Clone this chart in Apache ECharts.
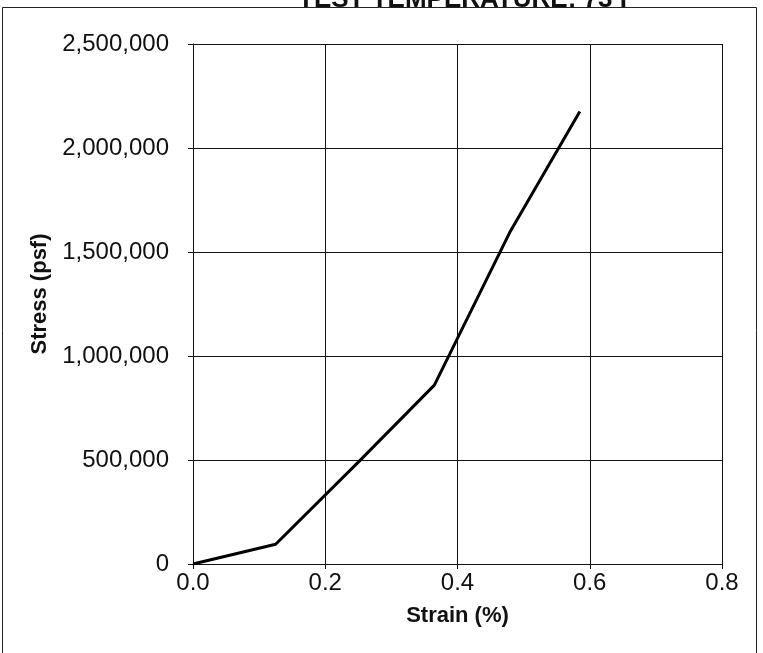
<!DOCTYPE html>
<html>
<head>
<meta charset="utf-8">
<script src="https://cdn.jsdelivr.net/npm/echarts@6/dist/echarts.min.js"></script>
<style>
  html, body { margin: 0; padding: 0; background: #fff; }
  #chart { width: 763px; height: 653px; }
</style>
</head>
<body>
<div id="chart"></div>
<script>
// strain (%) vs stress (psf)
var strain = [0, 0.125, 0.25, 0.365, 0.48, 0.585];
var stress = [0, 95000, 490000, 860000, 1600000, 2175000];
var xTicks = [0, 0.2, 0.4, 0.6, 0.8];
var yTicks = [0, 500000, 1000000, 1500000, 2000000, 2500000];

var FONT = 'Arial, "Liberation Sans", sans-serif';
var INK = '#111';

var points = [];
for (var i = 0; i < strain.length; i++) {
    points.push([strain[i], stress[i]]);
}

var option = {
    backgroundColor: '#fff',
    animation: false,
    title: {
        text: 'TEST TEMPERATURE: 73 F',
        left: 298,
        top: -13,
        padding: 0,
        textStyle: { fontFamily: FONT, fontSize: 26, fontWeight: 'bold', color: INK }
    },
    graphic: [
        {
            type: 'rect',
            silent: true,
            z: -1,
            shape: { x: 2.5, y: 7.5, width: 754, height: 700 },
            style: { fill: 'none', stroke: '#222', lineWidth: 1 }
        }
    ],
    grid: { left: 193, right: 41, top: 44, bottom: 89 },
    xAxis: {
        type: 'value',
        min: xTicks[0],
        max: xTicks[xTicks.length - 1],
        interval: 0.2,
        name: 'Strain (%)',
        nameLocation: 'middle',
        nameGap: 41,
        nameTextStyle: { fontFamily: FONT, fontSize: 22, fontWeight: 'bold', color: INK },
        axisLine: { lineStyle: { color: INK, width: 1 } },
        axisTick: { show: true, length: 5, lineStyle: { color: INK } },
        axisLabel: {
            fontFamily: FONT, fontSize: 24, color: INK, margin: 7,
            formatter: function (v) { return v.toFixed(1); }
        },
        splitLine: { show: true, lineStyle: { color: INK, width: 1 } }
    },
    yAxis: {
        type: 'value',
        min: yTicks[0],
        max: yTicks[yTicks.length - 1],
        interval: 500000,
        name: 'Stress (psf)',
        nameLocation: 'middle',
        nameGap: 140,
        nameTextStyle: {
            fontFamily: FONT, fontSize: 22, fontWeight: 'bold', color: INK,
            padding: [0, 0, 0, 20]
        },
        axisLine: { show: true, lineStyle: { color: INK, width: 1 } },
        axisTick: { show: true, length: 5, lineStyle: { color: INK } },
        axisLabel: {
            fontFamily: FONT, fontSize: 24, color: INK, margin: 24,
            formatter: function (v) { return v.toLocaleString('en-US'); }
        },
        splitLine: { show: true, lineStyle: { color: INK, width: 1 } }
    },
    series: [
        {
            type: 'line',
            data: points,
            showSymbol: false,
            lineStyle: { color: '#000', width: 3 }
        }
    ]
};

var chart = echarts.init(document.getElementById('chart'));
chart.setOption(option);
</script>
</body>
</html>
